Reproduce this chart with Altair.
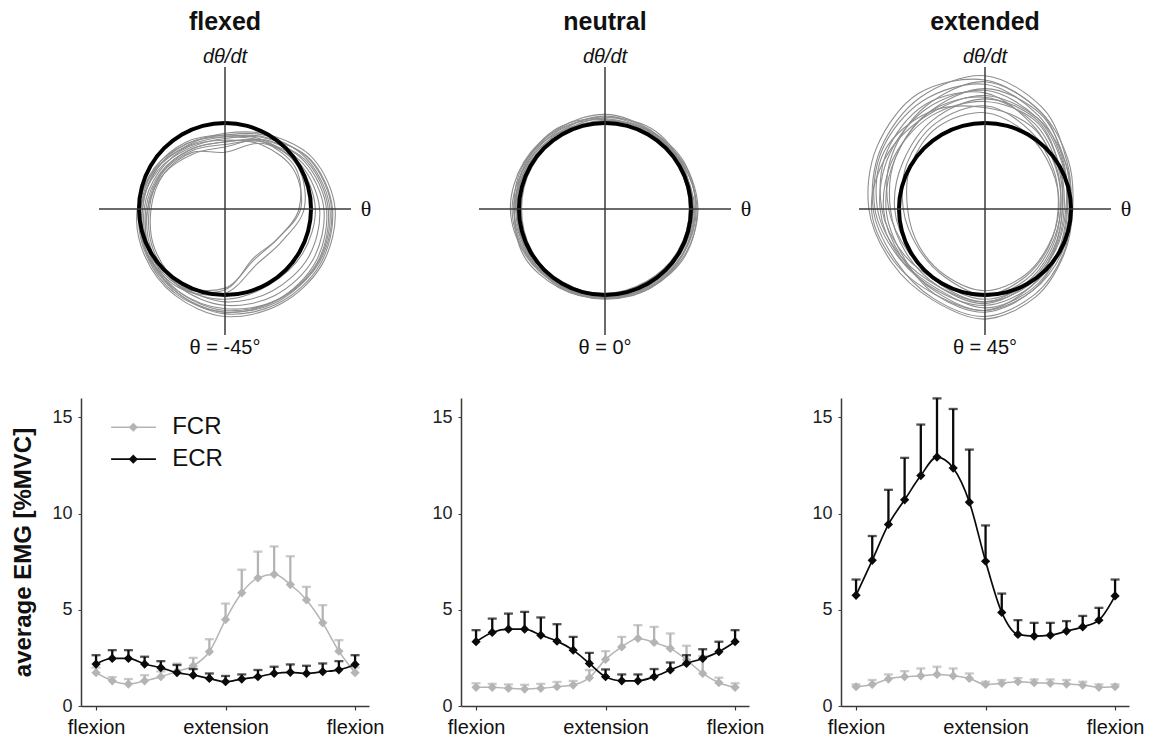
import altair as alt
import pandas as pd
import numpy as np

# ---------------- data ----------------
PANELS = ["flexed", "neutral", "extended"]
POSTURE_LABELS = ["θ = -45°", "θ = 0°", "θ = 45°"]
VEL_LABEL = "dθ/dt"
POS_LABEL = "θ"

# phase-plane loops: radius (in units of the mean orbit) at these angles (deg)
LOOP_ANGLES = [0, 30, 60, 90, 120, 150, 180, 210, 240, 270, 300, 330]
MEAN_ANGLES = [0, 15, 30, 45, 60, 75, 90, 105, 120, 135, 150, 165,
               180, 195, 210, 225, 240, 255, 270, 285, 300, 315, 330, 345]
MEAN_RADIUS = 1.0

LOOPS_FLEXED = [
    [1.25, 1.15, 0.95, 0.82, 0.82, 0.90, 0.98, 1.05, 1.12, 1.22, 1.26, 1.28],
    [1.20, 1.10, 0.92, 0.78, 0.80, 0.86, 0.92, 1.00, 1.10, 1.18, 1.22, 1.24],
    [1.28, 1.18, 1.00, 0.88, 0.86, 0.93, 1.02, 1.08, 1.16, 1.25, 1.28, 1.30],
    [1.15, 1.05, 0.90, 0.75, 0.78, 0.84, 0.88, 0.96, 1.05, 1.12, 1.16, 1.18],
    [1.10, 1.02, 0.88, 0.66, 0.76, 0.82, 0.86, 0.94, 1.02, 1.08, 1.10, 1.12],
    [0.88, 0.92, 0.86, 0.80, 0.84, 0.88, 0.94, 1.00, 1.02, 0.92, 0.68, 0.70],
    [0.86, 0.95, 0.90, 0.84, 0.88, 0.92, 0.96, 1.02, 1.04, 0.94, 0.66, 0.70],
    [1.22, 1.12, 0.98, 0.86, 0.88, 0.95, 1.00, 1.06, 1.14, 1.20, 1.24, 1.25],
    [1.05, 1.00, 0.90, 0.78, 0.80, 0.85, 0.90, 0.98, 1.04, 1.05, 1.02, 1.04],
    [1.18, 1.08, 0.93, 0.72, 0.74, 0.82, 0.90, 1.02, 1.12, 1.20, 1.22, 1.22],
    [1.24, 1.14, 0.96, 0.84, 0.85, 0.92, 0.96, 1.04, 1.10, 1.16, 1.22, 1.26],
    [0.92, 0.98, 0.92, 0.86, 0.90, 0.94, 0.98, 1.04, 1.06, 0.98, 0.74, 0.76],
]
LOOPS_NEUTRAL = [
    [1.06, 1.05, 1.04, 1.07, 1.06, 1.05, 1.08, 1.06, 1.03, 1.02, 1.04, 1.05],
    [1.02, 1.03, 1.06, 1.10, 1.08, 1.06, 1.04, 1.02, 1.00, 1.01, 1.02, 1.02],
    [1.08, 1.06, 1.02, 1.04, 1.07, 1.09, 1.10, 1.07, 1.04, 1.03, 1.05, 1.07],
    [0.98, 0.99, 1.00, 1.02, 1.00, 0.98, 0.97, 0.98, 0.99, 0.98, 0.97, 0.98],
    [1.04, 1.02, 1.05, 1.08, 1.04, 1.02, 1.05, 1.09, 1.06, 1.04, 1.03, 1.04],
    [1.00, 1.04, 1.08, 1.06, 1.02, 1.00, 1.02, 1.04, 1.02, 1.00, 0.99, 1.00],
    [1.07, 1.04, 1.00, 1.01, 1.04, 1.08, 1.06, 1.03, 1.05, 1.04, 1.06, 1.08],
    [1.03, 1.01, 1.03, 1.05, 1.09, 1.07, 1.03, 1.00, 0.98, 1.00, 1.01, 1.02],
    [0.99, 1.02, 1.04, 1.03, 1.01, 1.03, 1.06, 1.05, 1.02, 0.99, 0.98, 0.98],
    [1.05, 1.07, 1.05, 1.02, 1.03, 1.04, 1.02, 1.01, 1.03, 1.05, 1.06, 1.05],
]
LOOPS_EXTENDED = [
    [1.00, 1.10, 1.35, 1.55, 1.50, 1.40, 1.30, 1.20, 1.20, 1.25, 1.15, 1.05],
    [0.90, 0.98, 1.15, 1.30, 1.30, 1.20, 1.10, 1.05, 1.05, 1.10, 1.00, 0.92],
    [0.95, 1.05, 1.25, 1.45, 1.45, 1.38, 1.28, 1.15, 1.10, 1.12, 1.05, 0.98],
    [0.85, 0.92, 1.05, 1.20, 1.15, 1.05, 0.95, 0.90, 0.92, 1.00, 0.92, 0.86],
    [0.98, 1.08, 1.28, 1.40, 1.30, 1.20, 1.15, 1.10, 1.15, 1.20, 1.10, 1.00],
    [0.88, 0.95, 1.12, 1.35, 1.40, 1.32, 1.20, 1.08, 1.00, 1.02, 0.95, 0.88],
    [0.92, 1.00, 1.20, 1.28, 1.20, 1.10, 1.05, 1.00, 1.02, 1.08, 1.02, 0.94],
    [1.02, 1.12, 1.30, 1.50, 1.55, 1.45, 1.35, 1.25, 1.22, 1.28, 1.18, 1.06],
    [0.86, 0.90, 1.00, 1.12, 1.10, 1.00, 0.90, 0.88, 0.90, 0.95, 0.90, 0.85],
    [0.96, 1.04, 1.22, 1.38, 1.35, 1.28, 1.22, 1.14, 1.08, 1.15, 1.08, 0.99],
    [0.90, 1.00, 1.18, 1.25, 1.25, 1.22, 1.18, 1.12, 1.12, 1.18, 1.05, 0.93],
    [0.94, 1.06, 1.30, 1.48, 1.38, 1.25, 1.12, 1.02, 1.00, 1.05, 1.00, 0.95],
    [0.88, 0.96, 1.10, 1.18, 1.30, 1.35, 1.25, 1.12, 1.05, 1.08, 0.98, 0.90],
    [1.00, 1.08, 1.22, 1.32, 1.28, 1.30, 1.32, 1.22, 1.15, 1.18, 1.10, 1.03],
]
ALL_LOOPS = [LOOPS_FLEXED, LOOPS_NEUTRAL, LOOPS_EXTENDED]

# EMG: 17 phase bins over one cycle flexion -> extension -> flexion
PHASE = [0, 1, 2, 3, 4, 5, 6, 7, 8, 9, 10, 11, 12, 13, 14, 15, 16]
X_TICKS = [0, 8, 16]
X_TICK_LABELS = ["flexion", "extension", "flexion"]
Y_TICKS = [0, 5, 10, 15]
Y_TITLE = "average EMG [%MVC]"
MUSCLES = ["FCR", "ECR"]

FCR_MEAN = [
    [1.73, 1.31, 1.14, 1.31, 1.52, 1.80, 2.09, 2.82, 4.49, 5.88, 6.65, 6.84, 6.31, 5.51, 4.32, 2.85, 1.73],
    [0.97, 0.97, 0.92, 0.88, 0.92, 1.00, 1.09, 1.47, 2.42, 3.07, 3.51, 3.30, 2.99, 2.40, 1.69, 1.21, 0.97],
    [1.00, 1.12, 1.40, 1.52, 1.57, 1.64, 1.57, 1.43, 1.12, 1.18, 1.26, 1.21, 1.18, 1.14, 1.09, 0.97, 1.00],
]
FCR_UPPER = [
    [2.00, 1.50, 1.40, 1.60, 1.80, 2.20, 2.50, 3.47, 5.32, 7.08, 8.02, 8.29, 7.78, 6.19, 5.24, 3.42, 2.00],
    [1.18, 1.15, 1.12, 1.10, 1.15, 1.25, 1.30, 1.87, 2.85, 3.59, 4.20, 4.11, 3.77, 3.13, 2.60, 1.47, 1.18],
    [1.12, 1.35, 1.64, 1.81, 1.95, 2.04, 1.95, 1.69, 1.26, 1.35, 1.45, 1.38, 1.38, 1.35, 1.26, 1.12, 1.12],
]
ECR_MEAN = [
    [2.18, 2.47, 2.47, 2.18, 1.99, 1.73, 1.60, 1.43, 1.26, 1.40, 1.52, 1.69, 1.75, 1.69, 1.78, 1.88, 2.16],
    [3.34, 3.82, 3.99, 3.99, 3.68, 3.37, 2.90, 2.21, 1.52, 1.31, 1.31, 1.52, 1.87, 2.21, 2.47, 2.82, 3.34],
    [5.75, 7.57, 9.43, 10.71, 11.97, 12.93, 12.36, 10.59, 7.52, 4.86, 3.72, 3.63, 3.68, 3.89, 4.11, 4.46, 5.72],
]
ECR_UPPER = [
    [2.64, 2.90, 2.90, 2.56, 2.33, 2.13, 1.92, 1.69, 1.56, 1.64, 1.87, 2.04, 2.16, 2.09, 2.21, 2.33, 2.64],
    [3.94, 4.54, 4.80, 4.89, 4.60, 4.25, 3.59, 2.76, 1.90, 1.64, 1.64, 1.92, 2.26, 2.64, 2.95, 3.34, 3.94],
    [6.57, 8.83, 11.23, 12.89, 14.62, 15.98, 15.43, 13.32, 9.38, 5.84, 4.46, 4.32, 4.32, 4.41, 4.68, 5.10, 6.57],
]

# ---------------- style ----------------
FONT = "Liberation Sans"
LOOP_COLOR = "#8e8e8e"
MEAN_COLOR = "#000000"
AXIS_COLOR = "#3a3a3a"
FCR_COLOR = "#b4b4b4"
ECR_COLOR = "#0a0a0a"

PANEL_W = 288
TOP_H = 352
BOT_H = 308
COL_GAP = 92
ROW_GAP = 33

# phase-plane scale domains (units of mean orbit radius)
PX_DOMAIN = [-1.674, 1.674]
PY_DOMAIN = [-1.814, 2.279]
PP_AXIS_H = [-1.465, 1.465]
PP_AXIS_V = [-1.465, 1.651]

EMG_X_DOMAIN = [-0.93, 16.86]
EMG_Y_DOMAIN = [0, 16]


def phase_panel(i):
    loops = ALL_LOOPS[i]
    rows = []
    for k, radii in enumerate(loops):
        for j, (a, r) in enumerate(zip(LOOP_ANGLES, radii)):
            rows.append({"loop": k, "i": j,
                         "x": r * np.cos(np.radians(a)),
                         "y": r * np.sin(np.radians(a))})
    loops_df = pd.DataFrame(rows)
    mean_df = pd.DataFrame({
        "i": list(range(len(MEAN_ANGLES))),
        "x": [MEAN_RADIUS * np.cos(np.radians(a)) for a in MEAN_ANGLES],
        "y": [MEAN_RADIUS * np.sin(np.radians(a)) for a in MEAN_ANGLES],
    })
    axes_df = pd.DataFrame({
        "x": [PP_AXIS_H[0], 0.0], "x2": [PP_AXIS_H[1], 0.0],
        "y": [0.0, PP_AXIS_V[0]], "y2": [0.0, PP_AXIS_V[1]],
    })
    xs = alt.X("x:Q", scale=alt.Scale(domain=PX_DOMAIN, nice=False, zero=False), axis=None)
    ys = alt.Y("y:Q", scale=alt.Scale(domain=PY_DOMAIN, nice=False, zero=False), axis=None)

    loops_layer = alt.Chart(loops_df).mark_line(
        interpolate="cardinal-closed", color=LOOP_COLOR, strokeWidth=1.1, clip=False
    ).encode(x=xs, y=ys, detail="loop:N", order="i:Q")
    mean_layer = alt.Chart(mean_df).mark_line(
        interpolate="cardinal-closed", color=MEAN_COLOR, strokeWidth=4, clip=False
    ).encode(x=xs, y=ys, order="i:Q")
    axes_layer = alt.Chart(axes_df).mark_rule(color=AXIS_COLOR, strokeWidth=1.5).encode(
        x=xs, x2="x2:Q", y=ys, y2="y2:Q")

    title_df = pd.DataFrame({"x": [0.0], "y": [2.174], "t": [PANELS[i]]})
    vel_df = pd.DataFrame({"x": [0.0], "y": [1.767], "t": [VEL_LABEL]})
    pos_df = pd.DataFrame({"x": [1.64], "y": [0.0], "t": [POS_LABEL]})
    post_df = pd.DataFrame({"x": [0.0], "y": [-1.616], "t": [POSTURE_LABELS[i]]})

    title_layer = alt.Chart(title_df).mark_text(
        font=FONT, fontSize=25, fontWeight="bold", color="#111", baseline="middle"
    ).encode(x=xs, y=ys, text="t:N")
    vel_layer = alt.Chart(vel_df).mark_text(
        font=FONT, fontSize=20, fontStyle="italic", color="#111", baseline="middle"
    ).encode(x=xs, y=ys, text="t:N")
    pos_layer = alt.Chart(pos_df).mark_text(
        font="Liberation Serif", fontSize=22, color="#111", baseline="middle"
    ).encode(x=xs, y=ys, text="t:N")
    post_layer = alt.Chart(post_df).mark_text(
        font=FONT, fontSize=20, color="#111", baseline="middle"
    ).encode(x=xs, y=ys, text="t:N")

    return alt.layer(loops_layer, mean_layer, axes_layer, title_layer,
                     vel_layer, pos_layer, post_layer).properties(
        width=PANEL_W, height=TOP_H)


def label_expr():
    parts = []
    for v, lab in zip(X_TICKS, X_TICK_LABELS):
        parts.append(f"datum.value == {v} ? '{lab}'")
    return " : ".join(parts) + " : ''"


def emg_panel(i):
    first = i == 0
    xs = alt.X("phase:Q", scale=alt.Scale(domain=EMG_X_DOMAIN, nice=False, zero=False),
               axis=alt.Axis(values=X_TICKS, labelExpr=label_expr(), title=None,
                             grid=False, labelFont=FONT, labelFontSize=20,
                             labelColor="#111", domainColor=AXIS_COLOR, domainWidth=1.5,
                             tickColor=AXIS_COLOR, tickSize=4, tickWidth=1.2,
                             labelPadding=7, labelFlush=False))
    yaxis = dict(values=Y_TICKS, grid=False, labelFont=FONT, labelFontSize=18,
                 labelColor="#222", domainColor=AXIS_COLOR, domainWidth=1.5,
                 tickColor=AXIS_COLOR, tickSize=3, labelPadding=6)
    if first:
        yaxis.update(title=Y_TITLE, titleFont=FONT, titleFontSize=24,
                     titleFontWeight="bold", titleColor="#111", titlePadding=16)
    else:
        yaxis.update(title=None)
    yscale = alt.Scale(domain=EMG_Y_DOMAIN, nice=False, zero=True)
    ym = alt.Y("mean:Q", scale=yscale, axis=alt.Axis(**yaxis))
    yu = alt.Y("upper:Q", scale=yscale, axis=alt.Axis(**yaxis))

    layers = []
    series = [("FCR", FCR_MEAN[i], FCR_UPPER[i], FCR_COLOR, 1.5),
              ("ECR", ECR_MEAN[i], ECR_UPPER[i], ECR_COLOR, 1.7)]
    for name, mean, upper, col, lw in series:
        df = pd.DataFrame({"phase": PHASE, "mean": mean, "upper": upper})
        base = alt.Chart(df)
        layers.append(base.mark_rule(color=col, strokeWidth=2.3).encode(
            x=xs, y=ym, y2="upper:Q"))
        layers.append(base.mark_tick(color=col, orient="horizontal", size=9,
                                     thickness=2.3).encode(x=xs, y=yu))
        layers.append(base.mark_line(color=col, strokeWidth=lw,
                                     interpolate="monotone").encode(x=xs, y=ym))
        layers.append(base.mark_point(color=col, shape="diamond", filled=True,
                                      size=85, opacity=1).encode(x=xs, y=ym))

    if first:
        leg = pd.DataFrame({
            "muscle": MUSCLES,
            "x0": [0.93, 0.93], "x1": [3.7, 3.7], "xm": [2.3, 2.3],
            "xt": [4.7, 4.7], "y": [14.48, 12.82],
        })
        cscale = alt.Scale(domain=MUSCLES, range=[FCR_COLOR, ECR_COLOR])
        lx = alt.X("x0:Q", scale=alt.Scale(domain=EMG_X_DOMAIN, nice=False, zero=False))
        ly = alt.Y("y:Q", scale=yscale)
        lb = alt.Chart(leg)
        layers.append(lb.mark_rule(strokeWidth=1.7).encode(
            x=lx, x2="x1:Q", y=ly,
            color=alt.Color("muscle:N", scale=cscale, legend=None)))
        layers.append(lb.mark_point(shape="diamond", filled=True, size=85, opacity=1).encode(
            x=alt.X("xm:Q", scale=alt.Scale(domain=EMG_X_DOMAIN, nice=False, zero=False)),
            y=ly, color=alt.Color("muscle:N", scale=cscale, legend=None)))
        layers.append(lb.mark_text(font=FONT, fontSize=24, align="left",
                                   baseline="middle", color="#111").encode(
            x=alt.X("xt:Q", scale=alt.Scale(domain=EMG_X_DOMAIN, nice=False, zero=False)),
            y=ly, text="muscle:N"))

    return alt.layer(*layers).properties(width=PANEL_W, height=BOT_H)


panels = [phase_panel(i) for i in range(3)] + [emg_panel(i) for i in range(3)]
chart = alt.concat(
    *panels, columns=3, bounds="flush",
    spacing=alt.RowColnumber(row=ROW_GAP, column=COL_GAP)
).properties(
    padding={"left": 3, "top": 2, "right": 2, "bottom": 2},
    background="white",
).configure_view(stroke=None)

chart.save("out.html", embed_options={"renderer": "svg", "actions": False})
